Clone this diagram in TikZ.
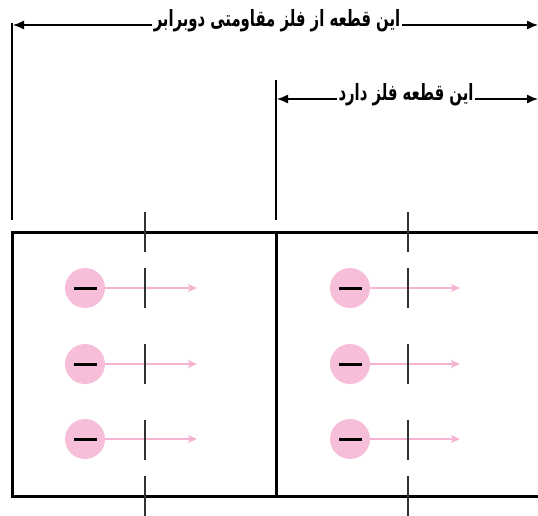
\documentclass[tikz,border=0pt]{standalone}
\usepackage{fontspec}
\usetikzlibrary{arrows.meta}
\TeXXeTstate=1
\newfontfamily\arabicfont[Script=Arabic]{DejaVu Sans}
\definecolor{epink}{RGB}{246,190,216}
\definecolor{apink}{RGB}{245,180,210}
\definecolor{tickgray}{RGB}{50,50,50}
\newcommand{\ptxt}[1]{\scalebox{1.06}[1.6]{\arabicfont\bfseries\fontsize{14}{16}\selectfont\beginR #1\endR}}
\tikzset{
  dimarrow/.style={line width=1.3pt,-{Latex[length=11pt,width=9pt]}},
  ptext/.style={inner sep=1.5pt,anchor=base},
  guide/.style={line width=1.2pt},
  frame/.style={line width=3pt},
  electron/.style={circle,fill=epink,minimum size=40pt,inner sep=0pt},
  minusbar/.style={line width=3pt},
  driftarrow/.style={apink,line width=1.3pt,-{Stealth[length=9pt,width=8pt,inset=2pt]}},
  tickmark/.style={tickgray,line width=1.8pt}
}
\begin{document}
\begin{tikzpicture}[x=1pt,y=-1pt]
\useasboundingbox (0,0) rectangle (538,515);
% dimension 1
\coordinate (g1t) at (12,23);
\coordinate (g1b) at (12,220);
\coordinate (a1l) at (13,25);
\coordinate (a1r) at (538,25);
\node[ptext] (t1) at (277,26.5) {\ptxt{این قطعه از فلز مقاومتی دوبرابر}};
\draw[guide] (g1t) -- (g1b);
\draw[dimarrow] (t1.west |- a1l) -- (a1l);
\draw[dimarrow] (t1.east |- a1r) -- (a1r);
% dimension 2
\coordinate (g2t) at (276,80);
\coordinate (g2b) at (276,220);
\coordinate (a2l) at (277,99);
\coordinate (a2r) at (538,99);
\node[ptext] (t2) at (406,100.5) {\ptxt{این قطعه فلز دارد}};
\draw[guide] (g2t) -- (g2b);
\draw[dimarrow] (t2.west |- a2l) -- (a2l);
\draw[dimarrow] (t2.east |- a2r) -- (a2r);
% frame
\coordinate (ftr) at (538,232);
\coordinate (ftl) at (12,232);
\coordinate (fbl) at (12,496);
\coordinate (fbr) at (538,496);
\coordinate (fmt) at (276,232);
\coordinate (fmb) at (276,496);
\draw[frame] (ftr) -- (ftl) -- (fbl) -- (fbr);
\draw[frame] (fmt) -- (fmb);
% electrons
\foreach \n/\x/\y/\e in {e1/85/288/197, e2/85/364/197, e3/85/439/197, e4/350/288/460, e5/350/364/460, e6/350/439/460}{
  \node[electron] (\n) at (\x,\y) {};
  \coordinate (\n end) at (\e,\y);
  \draw[driftarrow] (\n.east) -- (\n end);
  \draw[minusbar] ([xshift=-11pt]\n.center) -- ([xshift=12pt]\n.center);
}
% ticks
\foreach \x in {145,408}{
  \foreach \y in {232,288,364,439.5,496}{
    \draw[tickmark] (\x,\y-20) -- (\x,\y+20);
  }
}
\end{tikzpicture}
\end{document}
